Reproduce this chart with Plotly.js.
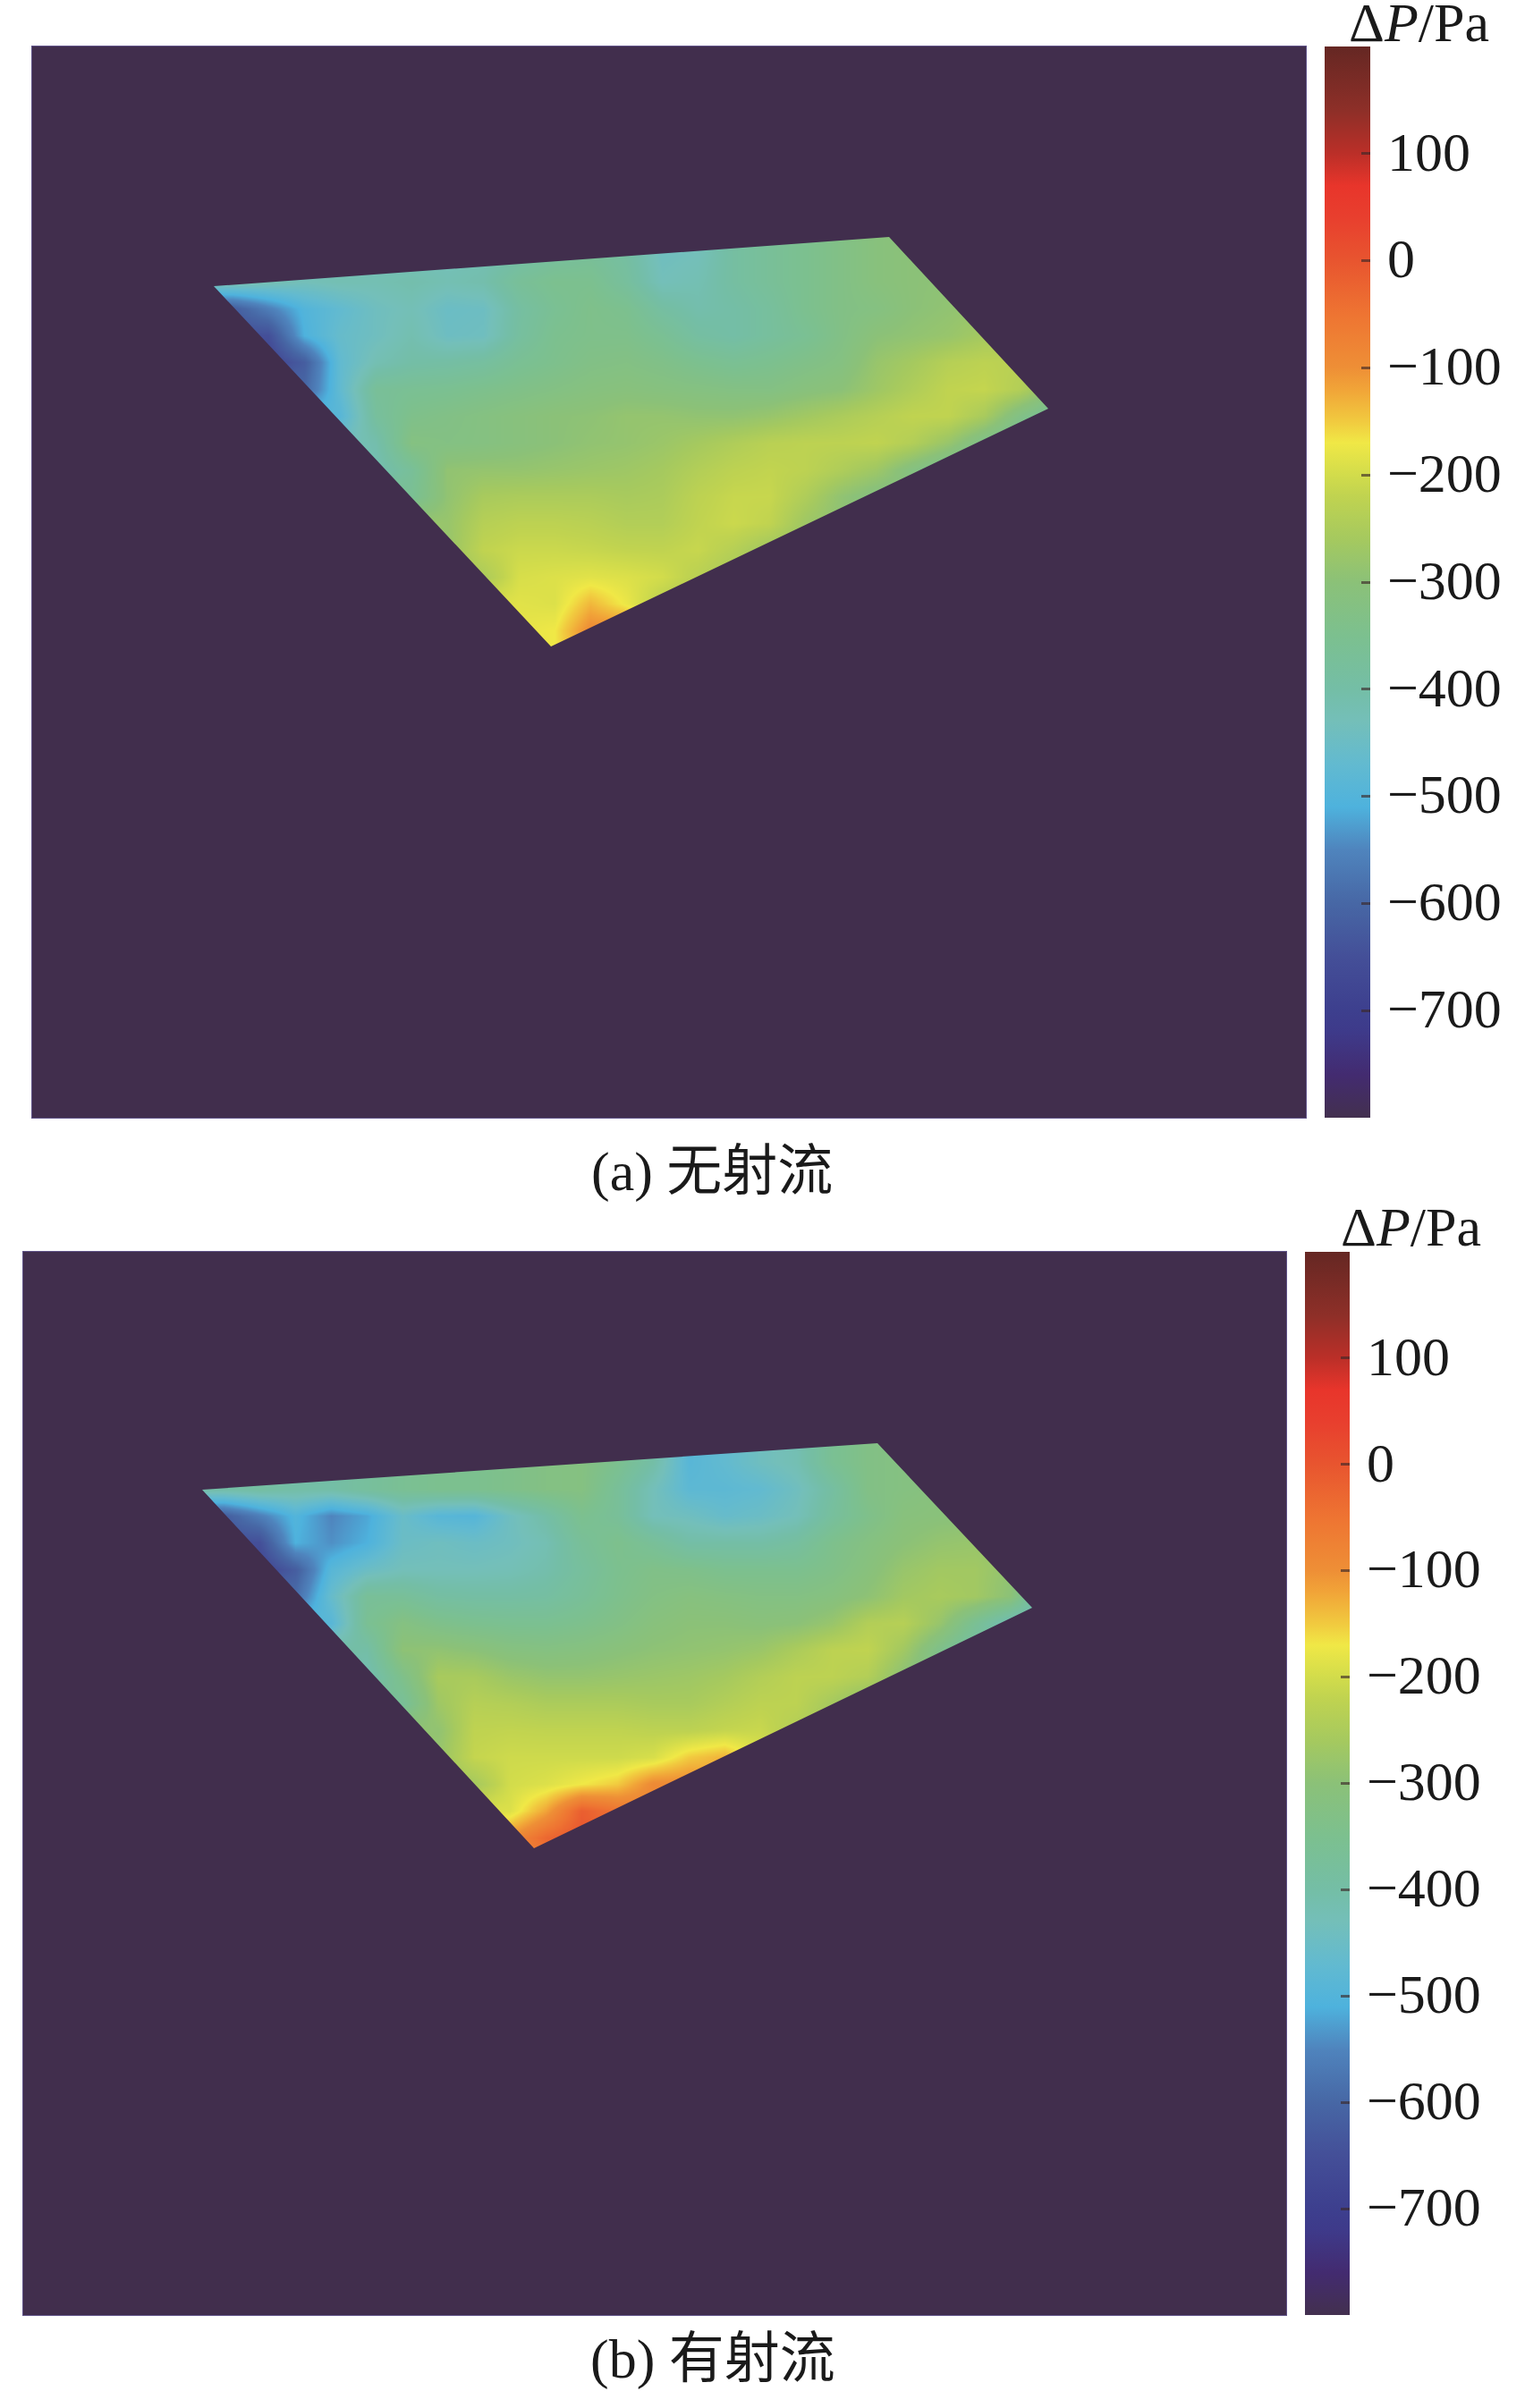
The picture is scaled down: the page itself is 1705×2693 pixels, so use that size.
<!DOCTYPE html>
<html>
<head>
<meta charset="utf-8">
<script src="https://cdn.plot.ly/plotly-3.0.1.min.js"></script>
<style>html,body{margin:0;padding:0;background:#fff}#chart{width:1705px;height:2693px}</style>
</head>
<body>
<div id="chart"></div>
<script>
// Shared value scale (Pa)
const zMin = -800;
const zMax = 200;
const tickValues = [100, 0, -100, -200, -300, -400, -500, -600, -700];
const tickLabels = ['100', '0', '\u2212100', '\u2212200', '\u2212300', '\u2212400', '\u2212500', '\u2212600', '\u2212700'];
const scaleValues = [-800,-760,-720,-700,-650,-600,-550,-510,-470,-430,-400,-350,-300,-260,-220,-200,-170,-150,-120,-100,-50,0,40,70,100,140,200];
const scaleColors = ['#43304f','#432b70','#3e3a8a','#3d3f8e','#444f98','#4767a5','#4f84bd','#4eb2dd','#62bad0','#74bfb9','#74bea6','#7cc08f','#8bc178','#a5c95f','#c0d350','#d2dc4b','#f0e846','#f1ca3f','#f1a438','#ee8f36','#ee7432','#e8552f','#e83f2e','#e8352b','#bb2f28','#8e2f28','#652723'];
const panelColor = '#412e4d';

// Panel (a) no jet: sample positions inside the panel, and values
const gridXA = [184,224,264,304,344,384,424,464,504,544,584,624,664,704,744,784,824,864,904,944,984,1024,1064,1104,1144];
const gridYA = [203,233,263,293,323,353,383,413,443,473,503,533,563,593,623,653,683];
const deltaPA = [
[-420,-420,-420,-420,-420,-430,-430,-430,-420,-400,-380,-370,-390,-440,-430,-390,-370,-350,-330,-310,-300,-300,-300,-300,-300],
[-420,-420,-420,-420,-420,-430,-430,-430,-420,-400,-380,-370,-390,-440,-430,-390,-370,-350,-330,-310,-300,-300,-300,-300,-300],
[-410,-410,-420,-430,-420,-420,-410,-420,-410,-370,-350,-350,-380,-430,-420,-390,-370,-350,-330,-310,-300,-295,-290,-290,-290],
[-620,-620,-560,-500,-470,-440,-425,-450,-445,-390,-360,-340,-350,-390,-410,-400,-380,-350,-330,-320,-300,-290,-280,-270,-270],
[-650,-650,-650,-510,-460,-440,-415,-445,-440,-385,-350,-340,-340,-360,-390,-400,-380,-360,-330,-300,-290,-280,-260,-250,-250],
[-680,-680,-680,-620,-470,-420,-400,-395,-385,-360,-345,-330,-325,-335,-350,-360,-350,-335,-320,-280,-260,-235,-225,-230,-250],
[-600,-600,-600,-600,-470,-370,-360,-355,-345,-335,-325,-315,-310,-315,-320,-325,-325,-310,-300,-270,-245,-220,-215,-240,-300],
[-490,-490,-490,-490,-490,-380,-340,-330,-320,-310,-300,-295,-285,-285,-290,-290,-280,-265,-250,-235,-220,-220,-255,-330,-380],
[-440,-440,-440,-440,-440,-410,-320,-325,-320,-310,-300,-290,-285,-275,-260,-245,-230,-225,-225,-220,-240,-280,-340,-380,-380],
[-420,-420,-420,-420,-420,-420,-370,-290,-285,-285,-280,-275,-270,-260,-240,-225,-218,-225,-245,-270,-320,-360,-380,-380,-380],
[-360,-360,-360,-360,-360,-360,-360,-290,-255,-250,-250,-250,-255,-250,-225,-212,-212,-245,-290,-320,-320,-320,-320,-320,-320],
[-280,-280,-280,-280,-280,-280,-280,-280,-235,-225,-225,-230,-240,-240,-220,-208,-220,-270,-300,-300,-300,-300,-300,-300,-300],
[-280,-280,-280,-280,-280,-280,-280,-280,-220,-208,-208,-212,-218,-220,-212,-235,-270,-290,-290,-290,-290,-290,-290,-290,-290],
[-260,-260,-260,-260,-260,-260,-260,-260,-250,-195,-190,-185,-190,-200,-230,-260,-260,-260,-260,-260,-260,-260,-260,-260,-260],
[-190,-190,-190,-190,-190,-190,-190,-190,-190,-185,-190,-135,-175,-230,-250,-250,-250,-250,-250,-250,-250,-250,-250,-250,-250],
[-180,-180,-180,-180,-180,-180,-180,-180,-180,-180,-170,-90,-90,-120,-120,-120,-120,-120,-120,-120,-120,-120,-120,-120,-120],
[-180,-180,-180,-180,-180,-180,-180,-180,-180,-180,-170,-100,-120,-120,-120,-120,-120,-120,-120,-120,-120,-120,-120,-120,-120]
];
const wingXA = [203,580,1136,958,203];
const wingYA = [268,671,405,213,268];

// Panel (b) with jet
const gridXB = [184.5,224.5,264.5,304.5,344.5,384.5,424.5,464.5,504.5,544.5,584.5,624.5,664.5,704.5,744.5,784.5,824.5,864.5,904.5,944.5,984.5,1024.5,1064.5,1104.5,1144.5];
const gridYB = [205,235,265,295,325,355,385,415,445,475,505,535,565,595,625,655,685];
const deltaPB = [
[-400,-400,-400,-400,-400,-380,-360,-350,-350,-340,-325,-320,-350,-400,-490,-470,-440,-420,-360,-330,-320,-310,-310,-310,-310],
[-400,-400,-400,-400,-400,-380,-360,-350,-350,-340,-325,-320,-350,-400,-490,-470,-440,-420,-360,-330,-320,-310,-310,-310,-310],
[-400,-400,-390,-400,-400,-380,-360,-350,-350,-340,-325,-320,-370,-430,-480,-480,-470,-440,-390,-330,-320,-310,-310,-310,-310],
[-620,-620,-560,-500,-550,-520,-455,-490,-495,-440,-400,-350,-370,-430,-440,-460,-450,-430,-380,-340,-310,-305,-300,-300,-300],
[-650,-650,-650,-510,-540,-510,-450,-440,-450,-440,-420,-370,-345,-370,-400,-400,-400,-385,-345,-320,-300,-285,-280,-280,-280],
[-680,-680,-680,-620,-490,-450,-430,-430,-430,-425,-410,-380,-350,-335,-340,-350,-350,-350,-335,-310,-280,-265,-265,-290,-330],
[-590,-590,-590,-590,-460,-370,-370,-390,-395,-395,-390,-370,-345,-325,-315,-320,-325,-325,-315,-295,-265,-255,-265,-300,-440],
[-490,-490,-490,-490,-490,-360,-320,-340,-350,-355,-355,-345,-330,-310,-300,-300,-305,-300,-280,-240,-235,-280,-360,-430,-450],
[-400,-400,-400,-400,-400,-400,-295,-290,-300,-315,-320,-315,-305,-295,-290,-285,-275,-250,-225,-220,-265,-340,-400,-400,-400],
[-420,-420,-420,-420,-420,-420,-340,-255,-255,-275,-285,-285,-280,-275,-270,-260,-240,-225,-225,-240,-300,-350,-350,-350,-350],
[-370,-370,-370,-370,-370,-370,-370,-270,-235,-240,-250,-250,-250,-255,-255,-240,-225,-225,-260,-300,-300,-300,-300,-300,-300],
[-290,-290,-290,-290,-290,-290,-290,-290,-222,-218,-220,-220,-220,-225,-225,-215,-210,-240,-270,-270,-270,-270,-270,-270,-270],
[-280,-280,-280,-280,-280,-280,-280,-280,-215,-205,-205,-205,-205,-195,-150,-130,-190,-200,-200,-200,-200,-200,-200,-200,-200],
[-260,-260,-260,-260,-260,-260,-260,-260,-260,-200,-190,-170,-150,-90,-90,-120,-120,-120,-120,-120,-120,-120,-120,-120,-120],
[-190,-190,-190,-190,-190,-190,-190,-190,-190,-190,-120,-15,-50,-80,-100,-100,-100,-100,-100,-100,-100,-100,-100,-100,-100],
[-100,-100,-100,-100,-100,-100,-100,-100,-100,-100,-30,0,-20,-60,-60,-60,-60,-60,-60,-60,-60,-60,-60,-60,-60],
[-100,-100,-100,-100,-100,-100,-100,-100,-100,-100,-70,-10,-60,-60,-60,-60,-60,-60,-60,-60,-60,-60,-60,-60,-60]
];
const wingXB = [200.5,571.5,1128.5,955.5,200.5];
const wingYB = [266,667,398,214,266];

const colorscale = scaleValues.map((v, i) => [(v - zMin) / (zMax - zMin), scaleColors[i]]);

const W = 1705, H = 2693;
const panels = [
  {ax:'', left:36, right:1460, top:52, bottom:1250, barLeft:1481, barW:51, gx:gridXA, gy:gridYA, z:deltaPA, wx:wingXA, wy:wingYA},
  {ax:'2', left:25.5, right:1438, top:1400, bottom:2589, barLeft:1459, barW:50, gx:gridXB, gy:gridYB, z:deltaPB, wx:wingXB, wy:wingYB}
];

const traces = [];
const layout = {
  width: W, height: H,
  margin: {l:0, r:0, t:0, b:0},
  paper_bgcolor: '#ffffff',
  plot_bgcolor: panelColor,
  showlegend: false,
  font: {family: '"Liberation Serif", "Noto Sans CJK SC", serif', color: '#1a1a1a'},
  annotations: [
    {text:'\u0394<i>P</i>/Pa', xref:'paper', yref:'paper', x:1586/W, y:1-25/H, xanchor:'center', yanchor:'middle', showarrow:false, font:{size:62}},
    {text:'\u0394<i>P</i>/Pa', xref:'paper', yref:'paper', x:1577/W, y:1-1372/H, xanchor:'center', yanchor:'middle', showarrow:false, font:{size:62}},
    {text:'(a) \u65e0\u5c04\u6d41', xref:'paper', yref:'paper', x:796/W, y:1-1310/H, xanchor:'center', yanchor:'middle', showarrow:false, font:{size:62}},
    {text:'(b) \u6709\u5c04\u6d41', xref:'paper', yref:'paper', x:797/W, y:1-2638/H, xanchor:'center', yanchor:'middle', showarrow:false, font:{size:62}}
  ]
};

panels.forEach(p => {
  const pw = p.right - p.left, ph = p.bottom - p.top;
  const axisStyle = {showgrid:false, zeroline:false, showticklabels:false, ticks:'', showline:true, mirror:true, linecolor:'#5f5288', linewidth:1};
  layout['xaxis' + p.ax] = Object.assign({domain:[p.left/W, p.right/W], range:[0, pw], anchor:'y' + p.ax}, axisStyle);
  layout['yaxis' + p.ax] = Object.assign({domain:[1-p.bottom/H, 1-p.top/H], range:[ph, 0], anchor:'x' + p.ax}, axisStyle);
  traces.push({
    type:'heatmap', x:p.gx, y:p.gy, z:p.z, xaxis:'x' + p.ax, yaxis:'y' + p.ax,
    zmin:zMin, zmax:zMax, zsmooth:'best', colorscale:colorscale, hoverinfo:'skip',
    colorbar:{
      x:p.barLeft/W, xanchor:'left', xpad:0,
      y:1-p.top/H, yanchor:'top', ypad:0,
      lenmode:'pixels', len:ph, thicknessmode:'pixels', thickness:p.barW,
      outlinewidth:0, borderwidth:0,
      tickmode:'array', tickvals:tickValues, ticktext:tickLabels,
      ticks:'inside', ticklen:10, tickwidth:3, tickcolor:'rgba(60,40,40,0.65)',
      tickfont:{size:62, color:'#1a1a1a', family:'"Liberation Serif", serif'}
    }
  });
  traces.push({
    type:'scatter', mode:'lines', xaxis:'x' + p.ax, yaxis:'y' + p.ax,
    x:[0, pw, pw, 0, 0].concat(p.wx, [0]),
    y:[0, 0, ph, ph, 0].concat(p.wy, [0]),
    fill:'toself', fillcolor:panelColor, line:{width:0}, hoverinfo:'skip'
  });
});

Plotly.newPlot('chart', traces, layout, {displayModeBar:false, responsive:false}).then(() => {
  // Nudge the colour bar labels to their place beside the bar
  document.querySelectorAll('.colorbar .cbaxis text, .colorbar .ytick text').forEach(t => {
    t.setAttribute('dx', '6');
    t.setAttribute('dy', '-3');
  });
});
</script>
</body>
</html>
